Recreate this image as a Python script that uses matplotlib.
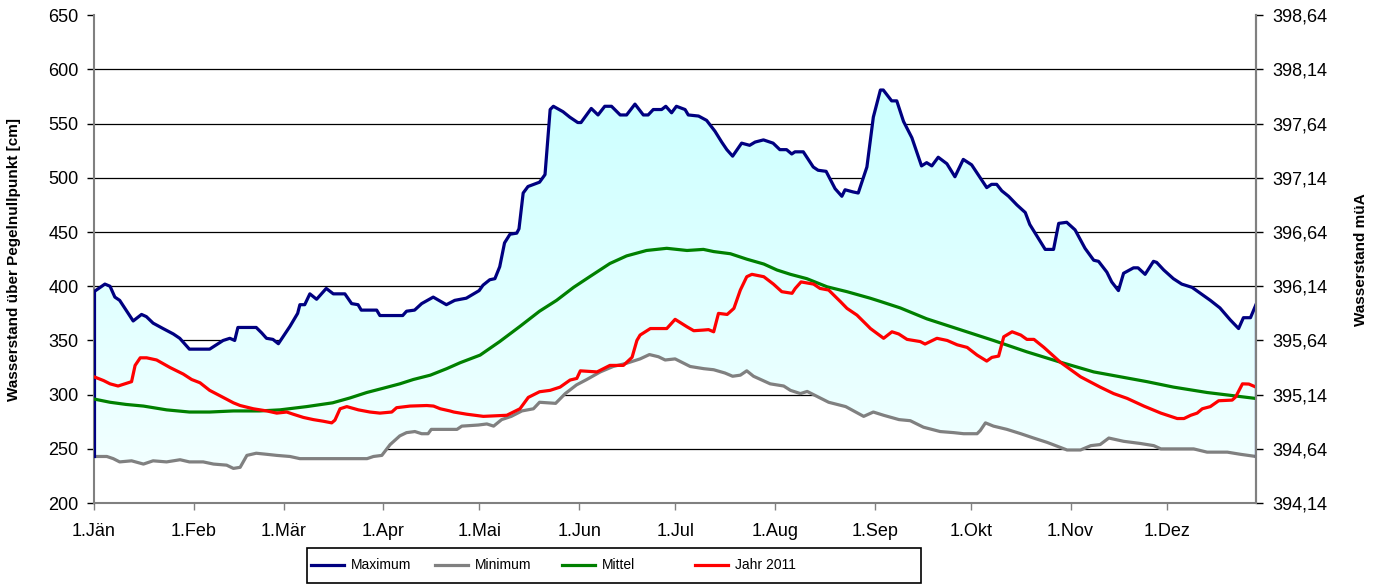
import numpy as np
import matplotlib
matplotlib.use('Agg')
import matplotlib.pyplot as plt
from matplotlib.lines import Line2D
from matplotlib.patches import Rectangle
from matplotlib.colors import LinearSegmentedColormap

plt.rcParams['font.family'] = ['Liberation Sans', 'DejaVu Sans']

# Monatsanfänge (Tag im Jahr, 0 = 1. Jänner)
month_days = [0, 31, 59, 90, 120, 151, 181, 212, 243, 273, 304, 334]
month_labels = ['1.Jän', '1.Feb', '1.Mär', '1.Apr', '1.Mai', '1.Jun',
                '1.Jul', '1.Aug', '1.Sep', '1.Okt', '1.Nov', '1.Dez']
day_end = 361.7

# Maximum
max_days = [0, 3.4, 5, 6.5, 8, 12.2, 14.8, 16.3, 18.4, 21.5, 24.7, 26.7, 29.7, 36, 38.1, 40.2,
            42.3, 43.8, 44.8, 50.5, 52.2, 53.7, 55.7, 57.4, 61, 63.4, 64.1, 65.6, 67.2, 69.3,
            72.3, 74.5, 78.1, 80.2, 82.2, 83.2, 88, 89, 96.1, 97.3, 99.8, 102, 105.6, 109.7,
            112.3, 115.9, 119.9, 121.1, 123.2, 124.8, 126.3, 127.8, 129.5, 131.6, 132.3, 133.6,
            135.1, 138.7, 140.4, 142, 143, 146, 148.1, 150.6, 151.6, 154.8, 156.9, 159, 161.1,
            163.8, 165.8, 168.4, 171, 172.5, 174.1, 176.7, 178, 179.8, 181.3, 184, 185, 188.2,
            190.7, 193.3, 195.4, 197, 198.8, 201.6, 204.1, 205.8, 208.4, 211.4, 213.5, 215.6,
            217.2, 218.2, 220.8, 223.9, 225.4, 227.9, 230.7, 232.8, 233.8, 236.3, 237.9, 240.6,
            242.6, 244.8, 245.7, 248.3, 249.9, 252, 254.6, 256.1, 257.6, 259.2, 260.8, 262.8,
            265.5, 268, 270.6, 273.2, 277.9, 279.4, 281, 282.6, 284.7, 287.3, 289.9, 291.3,
            296.1, 298.7, 300.3, 302.8, 305.4, 308.5, 311.2, 312.7, 315.3, 316.8, 318.9, 320.5,
            323.6, 325, 327.2, 329.8, 330.8, 333, 336, 338.6, 341.8, 347.5, 350.5, 353.7, 356.3,
            357.8, 360, 361.7]
max_vals = [395, 402, 400, 390, 387, 368, 374, 372, 366, 361, 356, 352, 342, 342, 346, 350,
            352, 350, 362, 362, 357, 352, 351, 347, 363, 375, 383, 383, 393, 388,
            398, 393, 393, 384, 383, 378, 378, 373, 373, 377, 378, 384, 390, 383,
            387, 389, 396, 401, 406, 407, 418, 440, 448, 449, 453, 486,
            492, 496, 503, 563, 566, 561, 556, 551, 551, 564, 558, 566, 566,
            558, 558, 568, 558, 558, 563, 563, 566, 560, 566, 563, 558, 557,
            553, 543, 533, 526, 520, 532, 530, 533, 535, 532, 526, 526,
            522, 524, 524, 510, 507, 506, 490, 483, 489, 487, 486, 510,
            556, 581, 581, 571, 571, 552, 537, 524, 511, 514, 511, 519,
            513, 501, 517, 512, 491, 494, 494, 488, 483, 475, 468, 457,
            434, 434, 458, 459, 452, 435, 424, 423, 413, 404, 396, 412,
            417, 417, 411, 423, 422, 415, 407, 402, 399, 387, 380, 369, 361,
            371, 371, 383]

# Minimum
min_days = [0, 4, 6, 8, 11.7, 15.4, 18.4, 22.6, 26.8, 29.7, 34, 37.2, 41.3, 43.4, 45.5, 47.6,
            50.5, 53.8, 56.9, 61, 64.1, 68.3, 85, 87, 89.6, 92.2, 95.2, 97.3, 99.9, 102, 104,
            105, 113, 114.5, 119.6, 122.3, 124.4, 126.9, 129.9, 133.2, 136.8, 138.7, 143.7,
            146.7, 150.2, 153.4, 157.6, 161.6, 165.8, 170, 172.9, 175.7, 177.8, 180.9, 185.6,
            189.8, 192.9, 196.4, 198.8, 201.2, 203.2, 205.3, 210.5, 214.7, 216.8, 219.9, 222,
            228.7, 234, 239.6, 242.6, 245.8, 250.6, 254.1, 258.2, 263.4, 267.6, 270.7, 274.9,
            275.9, 277.5, 280, 284.2, 288.5, 292.5, 296.7, 302.9, 307.1, 310.3, 313.2, 315.9,
            320.5, 325.7, 329.9, 332.1, 336, 342.3, 346.5, 352.8, 356.9, 361.7]
min_vals = [243, 243, 241, 238, 239, 236, 239, 238, 240, 238, 238, 236, 235, 232, 233, 244,
            246, 245, 244, 243, 241, 241, 241, 243, 244, 254, 262, 265, 266, 264, 264,
            268, 268, 271, 272, 273, 271, 277, 280, 285, 287, 293, 292,
            301, 309, 314, 321, 326, 329, 333, 337, 335, 332, 333, 326,
            324, 323, 320, 317, 318, 322, 317, 310, 308, 304, 301, 303,
            293, 289, 280, 284, 281, 277, 276, 270, 266, 265, 264, 264,
            267, 274, 271, 268, 264, 260, 256, 249, 249, 253, 254, 260,
            257, 255, 253, 250, 250, 250, 247, 247, 245, 243]

# Mittel
mit_days = [0, 5, 10, 15.4, 22.6, 29.7, 36, 43.4, 51.5, 57.9, 66.2, 74.3, 79.7, 84.9, 90.1,
            95.2, 99.4, 104.7, 109.8, 114, 120.2, 126.3, 132.6, 138.7, 144, 149.3, 154.4,
            160.6, 165.8, 172, 178.3, 184.6, 189.7, 192.9, 198.1, 203.2, 208.5, 212.6, 216.8,
            221.9, 228.2, 234.4, 241.6, 244.8, 251, 259.2, 269.6, 280, 290.4, 300.8, 311.2,
            319.5, 327.8, 336, 346.5, 354.8, 361.7]
mit_vals = [296, 293, 291, 289.5, 286, 284, 284, 285, 285, 286, 289, 292.5, 297, 302, 306,
            310, 314, 318, 324, 329.5, 336.5, 349, 363, 377, 387, 399, 409,
            421, 428, 433, 435, 433, 434, 432, 430, 425, 420.5, 415, 411,
            407, 399.5, 395, 389, 386, 380, 370, 360, 350, 339.5, 330, 321,
            316.5, 312, 307, 302, 299, 296.5]

# Jahr 2011
j11_days = [0, 3, 5, 7.5, 9.6, 11.7, 12.8, 14.4, 16.4, 19.5, 23.7, 27.8, 30.4, 33, 36, 40.2,
            43.4, 45.5, 49.6, 53.8, 56.9, 60, 62, 65.2, 68.3, 71.4, 74, 75, 76.6, 78.7, 82.3,
            85.9, 89, 92.7, 94.2, 98.4, 103.6, 105.7, 107.8, 110.8, 112, 116, 121.2, 128.5,
            132.6, 135.2, 138.7, 142, 145.1, 148.2, 150.3, 151.4, 156.6, 160.6, 164.8, 167.5,
            169, 170, 173.2, 178.3, 180.9, 184.6, 186.7, 189.7, 191.3, 192.9, 194.4, 197.1,
            199.2, 201.2, 203.2, 204.8, 208.5, 211.5, 214.1, 217.3, 218.3, 220.1, 224, 226,
            228.7, 232.4, 234.4, 237.5, 240.7, 241.7, 245.8, 248.4, 250.5, 253.1, 257.2, 258.7,
            262.4, 265.6, 268.7, 271.8, 274.9, 277.9, 279.5, 281.6, 283.2, 285.8, 288.5, 290.4,
            292.6, 295.7, 300.8, 307.1, 313.2, 317.4, 321.6, 326.8, 332.1, 337.2, 339.3, 341.4,
            343.4, 345, 347.5, 350.1, 354.3, 355.4, 357.5, 359.5, 361.7]
j11_vals = [316.5, 313, 310, 308, 310, 312, 327, 334, 334, 332, 325, 319, 314, 311, 304, 297.5,
            292.5, 290, 287, 285, 283, 284, 282, 279, 277, 275.5, 274, 276.5, 287, 289, 286,
            284, 283, 284, 288, 289.5, 290, 289.5, 287, 285, 284, 282, 280, 281,
            287, 297.5, 302.7, 304, 307, 313.5, 315, 322, 321, 327, 327, 334.5,
            350, 355, 361, 361, 369.5, 362.6, 359, 359.6, 360, 358, 375, 374,
            379.6, 396.5, 408.8, 411, 408.8, 402, 395, 393.5, 398, 404, 402, 398,
            396.5, 385.7, 379.6, 373.4, 364, 361, 352, 358, 356, 351, 349, 346.7,
            352, 350, 346, 343.6, 336.5, 331, 334.4, 335.6, 353.4, 358, 355, 351,
            351, 343.6, 330, 316.5, 307, 301, 296.6, 289.5, 283, 278, 278, 281,
            283, 287, 289, 294.4, 295, 298, 310, 309.8, 307]

series_labels = ['Maximum', 'Minimum', 'Mittel', 'Jahr 2011']
series_colors = ['#000080', '#808080', '#008000', '#ff0000']
c_max, c_min, c_mit, c_j11 = series_colors
lw = 2.3

fig = plt.figure(figsize=(13.8, 5.85), dpi=100)
ax = fig.add_axes([0.0681, 0.140, 0.842, 0.834])

# Fläche zwischen Maximum und Minimum mit Farbverlauf
area_x = np.concatenate([max_days, min_days[::-1]])
area_y = np.concatenate([max_vals, min_vals[::-1]])
area = ax.fill(area_x, area_y, facecolor='none', edgecolor='none', zorder=1)[0]
grad = np.linspace(0, 1, 256).reshape(-1, 1)
cmap = LinearSegmentedColormap.from_list('wasser', ['#f2ffff', '#ccffff'])
im = ax.imshow(grad, extent=[0, day_end, min(min_vals), max(max_vals)], origin='lower',
               aspect='auto', cmap=cmap, zorder=1)
im.set_clip_path(area)

# Ränder der Fläche
ax.plot([max_days[0], min_days[0]], [max_vals[0], min_vals[0]], color=c_max, lw=lw, zorder=3)
ax.plot([max_days[-1], min_days[-1]], [max_vals[-1], min_vals[-1]], color=c_max, lw=lw, zorder=3)

ax.plot(min_days, min_vals, color=c_min, lw=lw, zorder=2)
ax.plot(mit_days, mit_vals, color=c_mit, lw=lw, zorder=3)
ax.plot(j11_days, j11_vals, color=c_j11, lw=lw, zorder=4)
ax.plot(max_days, max_vals, color=c_max, lw=lw, zorder=5)

ax.set_xlim(0, day_end)
ax.set_ylim(200, 650)
ax.set_yticks(np.arange(200, 651, 50))
ax.set_xticks(month_days)
ax.set_xticklabels(month_labels)

ax.grid(axis='y', color='black', lw=0.9, zorder=0)
ax.set_axisbelow(True)
for gl, v in zip(ax.get_ygridlines(), ax.get_yticks()):
    if v in (200, 650):
        gl.set_visible(False)

ax.spines['top'].set_visible(False)
for s in ('left', 'bottom', 'right'):
    ax.spines[s].set_color('#808080')
    ax.spines[s].set_linewidth(1.5)

ax.tick_params(axis='y', labelsize=13, length=5, width=1, pad=6, color='black')
ax.tick_params(axis='x', labelsize=13, length=5, width=1, pad=9, color='#808080')

ax.set_ylabel('Wasserstand über Pegelnullpunkt [cm]', fontsize=11, fontweight='bold')
ax.yaxis.set_label_coords(-0.063, 0.5)

# rechte Achse in Meter über Adria
ax2 = ax.twinx()
ax2.set_ylim(394.14, 398.64)
r_ticks = np.round(np.arange(394.14, 398.65, 0.5), 2)
ax2.set_yticks(r_ticks)
ax2.set_yticklabels([f'{v:.2f}'.replace('.', ',') for v in r_ticks])
ax2.tick_params(axis='y', labelsize=13, length=5, width=1, pad=7, color='black')
for s in ('top', 'left', 'bottom'):
    ax2.spines[s].set_visible(False)
ax2.spines['right'].set_color('#808080')
ax2.spines['right'].set_linewidth(1.5)
ax2.set_ylabel('Wasserstand müA', fontsize=11, fontweight='bold')
ax2.yaxis.set_label_coords(1.0845, 0.5)

# Legende mit gleich breiten Spalten (wie im Original)
box_x, box_y, box_w, box_h = 307 / 1380, 2 / 585, 614 / 1380, 35 / 585
fig.patches.append(Rectangle((box_x, box_y), box_w, box_h, transform=fig.transFigure,
                             facecolor='white', edgecolor='black', lw=1.2))
entry_x = [311, 435, 562, 695]
y_mid = (585 - 565) / 585
for px, lab, col in zip(entry_x, series_labels, series_colors):
    x0 = px / 1380
    fig.add_artist(Line2D([x0, x0 + 33 / 1380], [y_mid, y_mid], color=col, lw=lw,
                          transform=fig.transFigure))
    fig.text(x0 + 40 / 1380, y_mid, lab, fontsize=10, va='center', ha='left')

fig.savefig('out.png', dpi=100)
